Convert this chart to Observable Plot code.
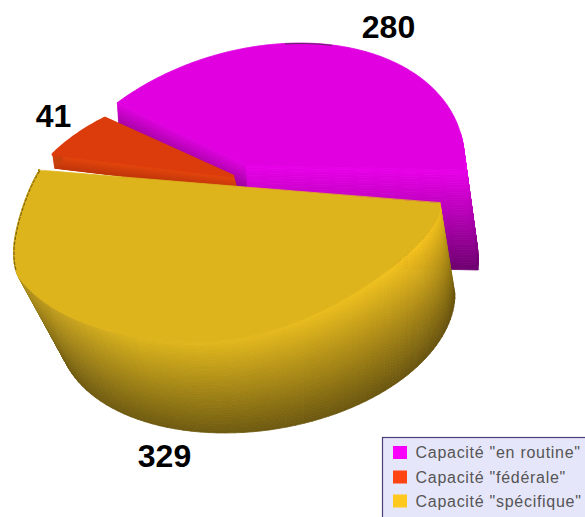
<!DOCTYPE html>
<html><head><meta charset="utf-8">
<script src="https://cdn.jsdelivr.net/npm/d3@7"></script>
<script src="https://cdn.jsdelivr.net/npm/@observablehq/plot@0.6"></script>
<style>html,body{margin:0;padding:0;background:#fff}svg{display:block}.leg text{letter-spacing:.72px}</style>
</head><body><div id="chart"></div>
<script>
const categories = ['Capacité "en routine"', 'Capacité "fédérale"', 'Capacité "spécifique"'];
const values = [280, 41, 329];
const legendColors = ["#fa00fa", "#ff4412", "#ffc81e"];
const topColors = ["#e000e0", "#dc3c0c", "#deb41c"];

const W = 585, H = 517;
const rad = d => d * Math.PI / 180;
// Perspective view of each exploded slice's rim, top and bottom
const view = [
  {top:{cx:264,cy:164,a:200,c:6,b:-53,d:145,k:.2}, bot:{cx:274,cy:264,a:204,c:6,b:-53,d:145,k:.2},
   apex:[245,165], apexB:[251,265]},
  {top:{cx:250,cy:175,a:201,c:16.5,b:-51.75,d:113.6,k:.25}, bot:{cx:252,cy:189,a:201,c:16.5,b:-51.75,d:113.6,k:.25},
   apex:[233,176], apexB:[237,190]},
  {top:{cx:255,cy:187.8,a:199.7,c:16.4,b:-45.5,d:108,k:.3,q:.08,fr:.35,fl:.05,clamp:true}, bot:{cx:270,cy:283,a:185,c:12,b:-49,d:112,k:.25},
   apex:[239,186.5], apexB:[270,283], flat:[140,182]}
];
function rim(p, deg) {
  let x = Math.cos(rad(deg)), y = Math.sin(rad(deg));
  if (p.clamp) y = Math.max(0, y);
  if (p.fr && x > 0) y *= 1 - p.fr * x * x;
  if (p.fl && deg > 135 && deg < 182) x *= 1 - p.fl * Math.sin(Math.PI * (deg - 135) / 47);
  const w = 1 - p.k * y + (p.q || 0) * x;
  return [p.cx + (p.a * x + p.b * y) / w, p.cy + (p.c * x + p.d * y) / w];
}
const lerp = (a, b, t) => [a[0] + (b[0] - a[0]) * t, a[1] + (b[1] - a[1]) * t];
function lower(v, deg) {
  const Q = rim(v.bot, deg);
  if (!v.flat) return Q;
  let t = Math.min(1, Math.max(0, (deg - v.flat[0]) / (v.flat[1] - v.flat[0])));
  t = t * t * (3 - 2 * t);
  return lerp(Q, rim(v.top, deg), t);
}
// slice angles come from the values
const total = d3.sum(values);
let cursor = 360;
const spans = values.map(v => { const e = cursor, s = cursor - v / total * 360; cursor = s; return [s, e]; });

const rows = [];
const angles = (s, e, st = 2) => { const n = Math.max(2, Math.ceil((e - s) / st)); return d3.range(n + 1).map(i => s + (e - s) * i / n); };
function band(key, pts1, pts2, fill, sw = 0.8) {
  pts1.forEach((p, i) => rows.push({key, x1: p[0], y1: p[1], x2: pts2[i][0], y2: pts2[i][1], fill, sw}));
}
const N = 40;
// shading
const magentaRamp = d3.scaleLinear().domain([0, .45, 1]).range(["#e800e8", "#b400b4", "#6c006e"]).clamp(true);
const magentaLeft = d3.scaleLinear().domain([0, .22]).range(["#dc00dc", "#a000a0"]).clamp(true);
const redFace = d3.scaleLinear().domain([0, 1]).range(["#e8480e", "#c0360a"]);
const yellowTop = d3.scaleLinear().domain([0, 30, 100, 140, 182]).range(["#e8bc1c", "#f6c41e", "#dcb41c", "#a88a20", "#a88a20"]);
const yellowBot = d3.scaleLinear().domain([0, 90, 182]).range(["#64500e", "#6e5a10", "#6e5a12"]);
const yellowCol = (a, t) => d3.interpolateRgb(yellowTop(t), yellowBot(t))(a);

function radialFace(v, ang, col, tag) {
  const T = rim(v.top, ang), B = rim(v.bot, ang);
  for (let n = 0; n < N; n++) {
    const a = n / N, b = (n + 1) / N;
    band(`${tag}${n}`, [lerp(v.apex, v.apexB, a), lerp(T, B, a)], [lerp(v.apex, v.apexB, b), lerp(T, B, b)], col(a));
  }
}
function wallCells(v, s, e, step, low, col, tag) {
  const A = angles(s, e, step);
  for (let n = N - 1; n >= 0; n--) {
    const a = n / N, b = (n + 1) / N;
    for (let m = 0; m < A.length - 1; m++) {
      const t0 = A[m], t1 = A[m + 1];
      const P = t => lerp(rim(v.top, t), low(v, t), a), R = t => lerp(rim(v.top, t), low(v, t), b);
      band(`${tag}${n}_${m}`, [P(t0), P(t1)], [R(t0), R(t1)], col((a + b) / 2, (t0 + t1) / 2, P((t0 + t1) / 2)));
    }
  }
}
const topSurface = (i, sw = 0.8) => {
  const A = angles(spans[i][0], spans[i][1], 1);
  band(`t${i}`, A.map(() => view[i].apex), A.map(x => rim(view[i].top, x)), topColors[i], sw);
};
// magenta
radialFace(view[0], spans[0][1], magentaRamp, "fr");
radialFace(view[0], spans[0][0], magentaLeft, "fl");
wallCells(view[0], 345, 360, 2, (v, t) => rim(v.bot, t), (a, t, p) => magentaRamp((p[1] - 167) / 98), "m");
topSurface(0);
// red
radialFace(view[1], spans[1][1], redFace, "rr");
radialFace(view[1], spans[1][0], redFace, "rl");
{ const A = angles(spans[1][0], spans[1][0] + 4, 1);
  band("rw", A.map(x => rim(view[1].top, x)), A.map(x => rim(view[1].bot, x)), "#c8400c"); }
topSurface(1, 3);
// yellow
wallCells(view[2], spans[2][0], spans[2][1], 2, lower, (a, t) => yellowCol(a, t), "y");
topSurface(2);

const dashedRim = angles(138, spans[2][1], 1).map(t => { const [x, y] = rim(view[2].top, t); return {x, y}; });
const magentaCap = angles(262, 278, 1).map(t => { const [x, y] = rim(view[0].top, t); return {x, y}; });

const valueLabelAt = [[388, 27], [53, 116], [164, 456]];
const labels = values.map((v, i) => ({text: String(v), x: valueLabelAt[i][0], y: valueLabelAt[i][1]}));
const legendRows = categories.map((c, i) => ({c, col: legendColors[i], y: [452.5, 477, 501][i]}));

const chart = Plot.plot({
  width: W, height: H, margin: 0,
  x: {domain: [0, W], range: [0, W], axis: null},
  y: {domain: [0, H], range: [0, H], axis: null},
  color: {type: "identity"},
  style: {background: "#fff"},
  marks: [
    Plot.area(rows, {x1: "x1", y1: "y1", x2: "x2", y2: "y2", z: "key", fill: "fill", stroke: "fill", strokeWidth: "sw", strokeLinejoin: "round", curve: "linear"}),
    Plot.line(dashedRim, {x: "x", y: "y", stroke: "#6a5410", strokeWidth: 1, strokeDasharray: "3,2"}),
    Plot.line(magentaCap, {x: "x", y: "y", stroke: "#5c2a5c", strokeWidth: 1}),
    Plot.text(labels, {x: "x", y: "y", text: "text", fontFamily: "Liberation Sans", fontWeight: "bold", fontSize: 32, fill: "#000", textAnchor: "middle", lineAnchor: "middle"}),
    Plot.rect([{}], {x1: () => 382.5, x2: () => 590, y1: () => 437.5, y2: () => 525, fill: "#e6e6fa", stroke: "#4a3f78", strokeWidth: 1.2}),
    Plot.rect(legendRows, {x1: () => 393, x2: () => 407, y1: d => d.y - 6.5, y2: d => d.y + 6.5, fill: "col"}),
    Plot.text(legendRows, {x: () => 415, y: "y", text: "c", fontFamily: "Liberation Sans", fontSize: 16, fill: "#555", textAnchor: "start", lineAnchor: "middle", className: "leg"})
  ]
});
document.getElementById("chart").append(chart);
</script></body></html>
